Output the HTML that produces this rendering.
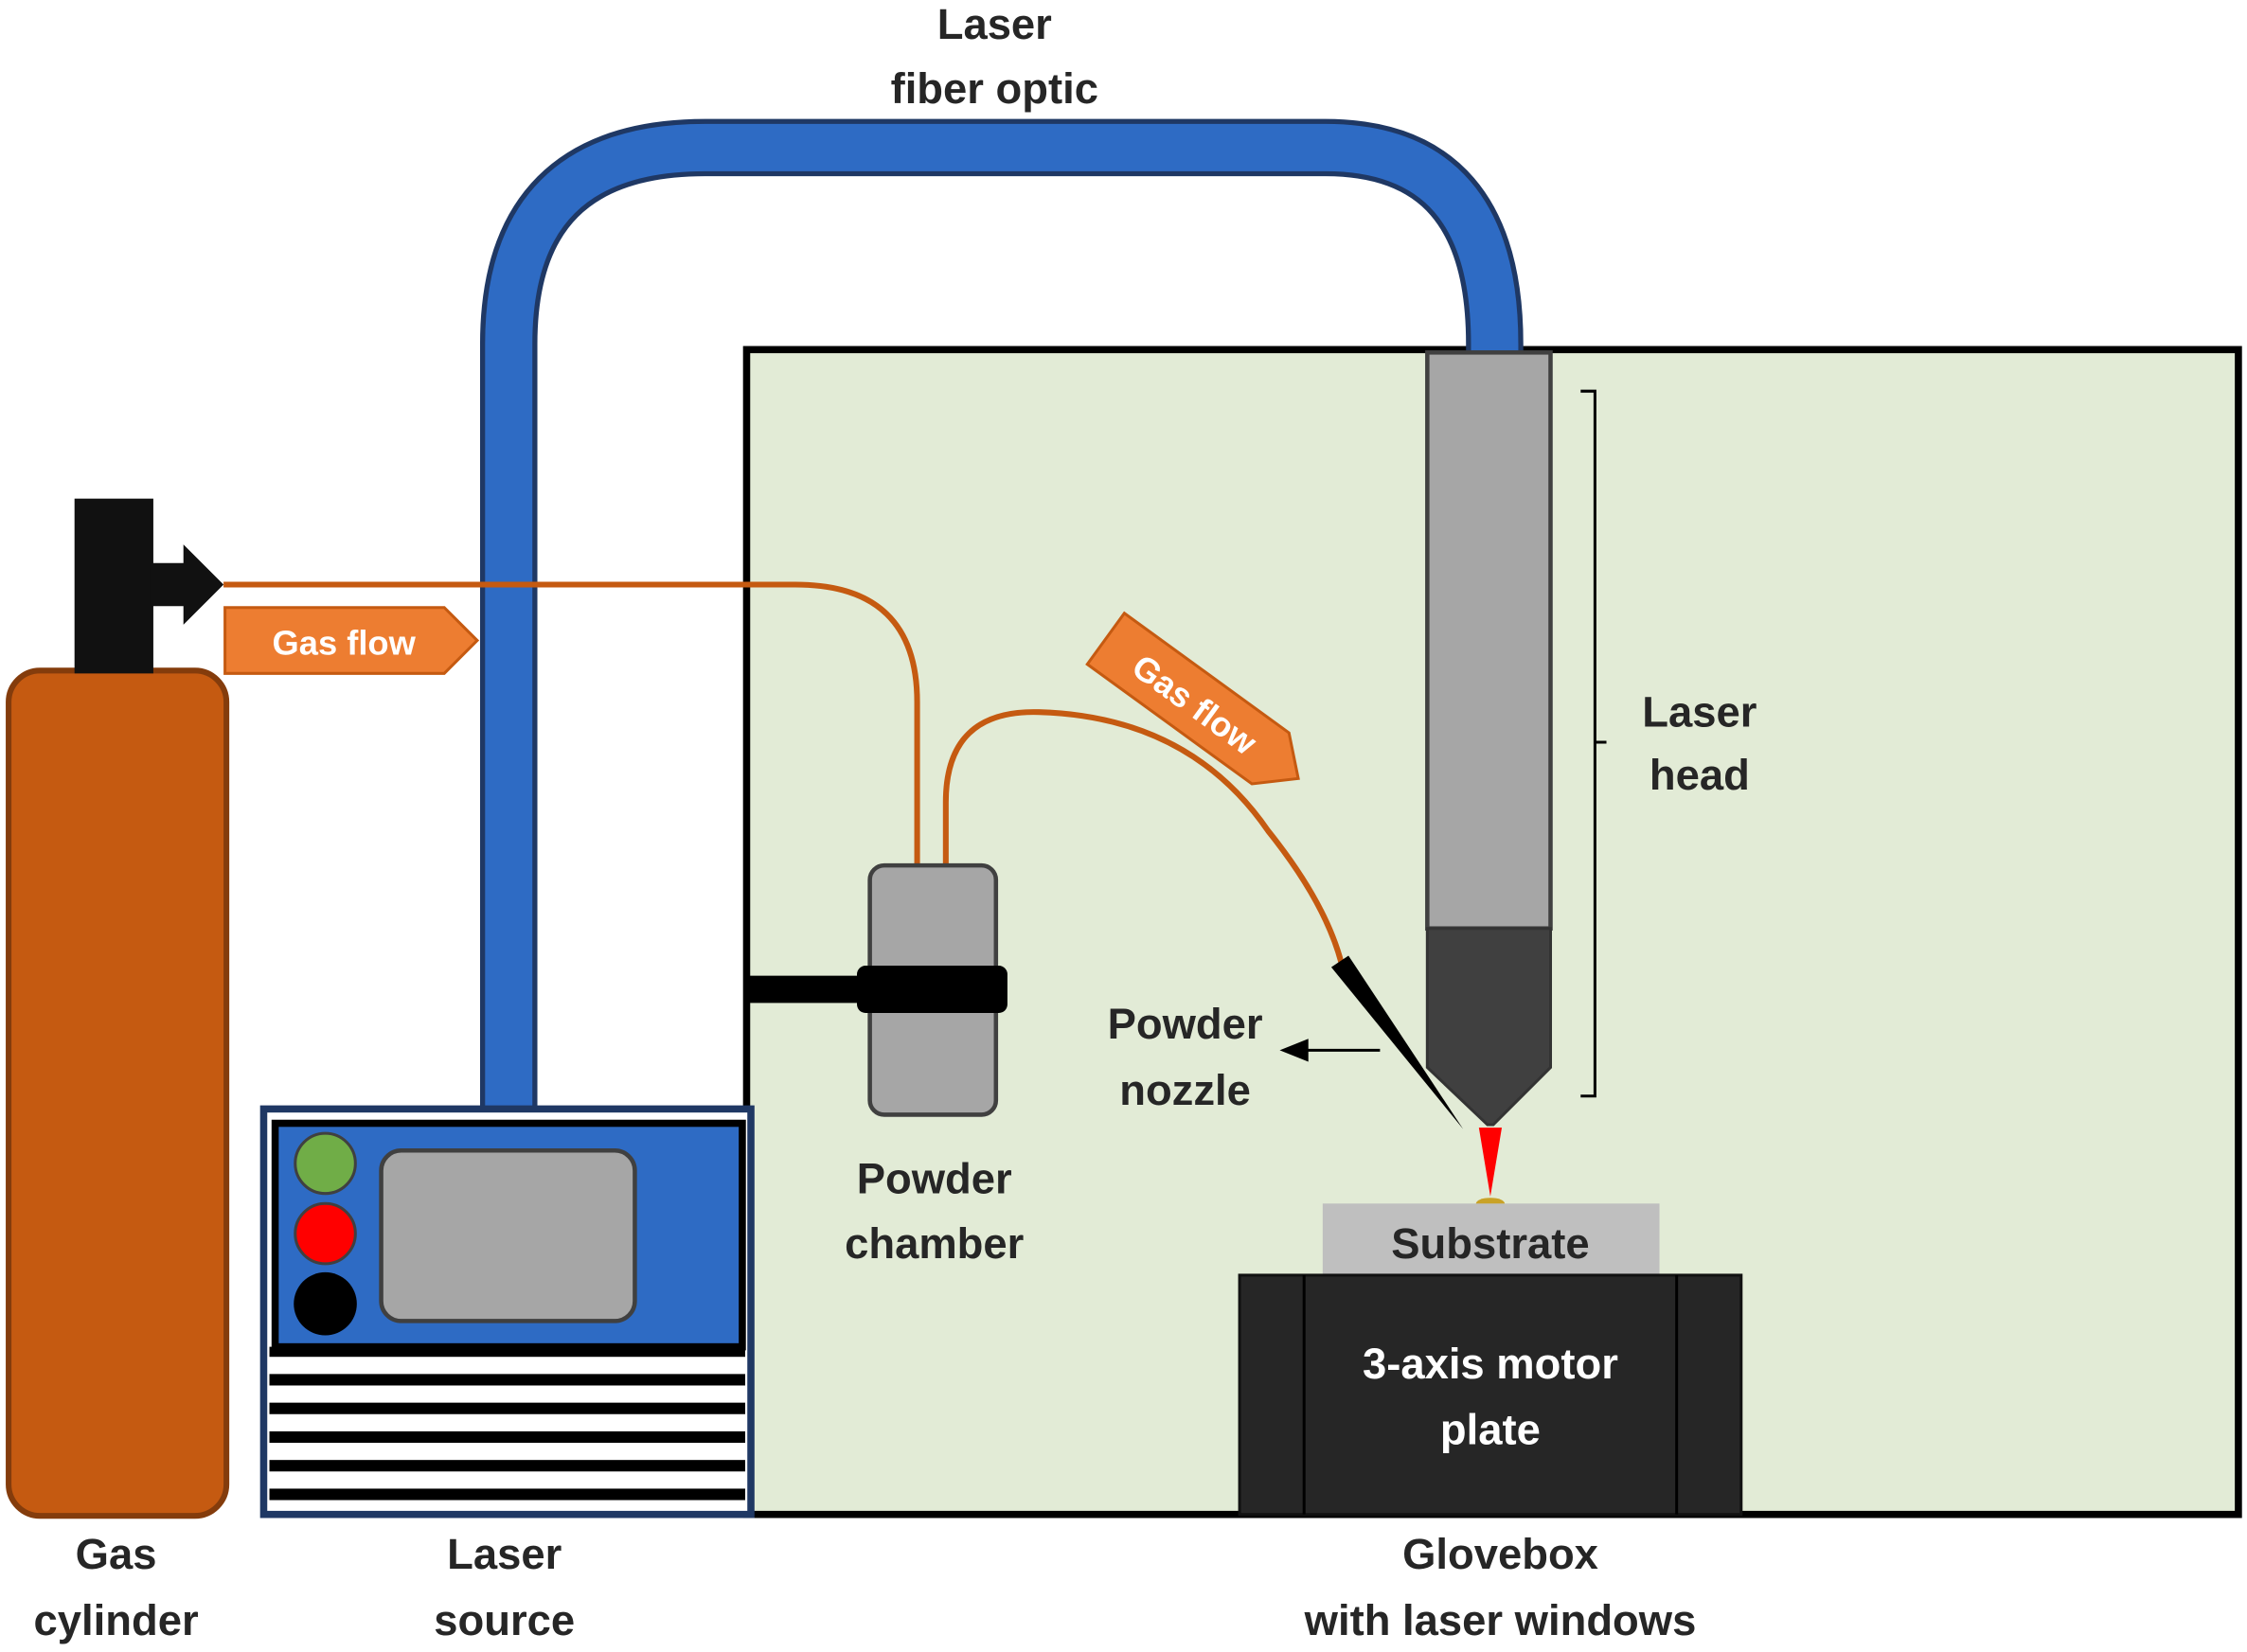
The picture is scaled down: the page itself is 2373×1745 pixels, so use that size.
<!DOCTYPE html>
<html><head><meta charset="utf-8"><style>
html,body{margin:0;padding:0;background:#fff;}
svg{display:block;}
text{font-family:"Liberation Sans",sans-serif;font-weight:bold;}
</style></head><body>
<svg width="2373" height="1745" viewBox="0 0 1568 1153" xmlns="http://www.w3.org/2000/svg">
<rect width="1568" height="1153" fill="#fff"/>
<!-- Glovebox -->
<rect x="521" y="244" width="1041" height="813" fill="#e2ebd6" stroke="#000" stroke-width="5"/>
<!-- fiber -->
<path d="M355 778 V240 Q355 103 492 103 H925 Q1043 103 1043 240 V248" fill="none" stroke="#1f3864" stroke-width="40"/>
<path d="M355 778 V240 Q355 103 492 103 H925 Q1043 103 1043 240 V248" fill="none" stroke="#2e6bc4" stroke-width="33"/>
<!-- laser source -->
<rect x="184" y="774" width="340" height="283" fill="#fff" stroke="#1f3864" stroke-width="5"/>
<rect x="192" y="784" width="326" height="156" fill="#2e6bc4" stroke="#000" stroke-width="5"/>
<rect x="266" y="803" width="177" height="119" rx="14" fill="#a6a6a6" stroke="#404040" stroke-width="3"/>
<circle cx="227" cy="812" r="21" fill="#70ad47" stroke="#404040" stroke-width="2"/>
<circle cx="227" cy="861" r="21" fill="#ff0000" stroke="#404040" stroke-width="2"/>
<circle cx="227" cy="910" r="22" fill="#000"/>
<g fill="#000">
<rect x="188" y="940" width="332" height="7"/>
<rect x="188" y="959" width="332" height="8"/>
<rect x="188" y="979" width="332" height="8"/>
<rect x="188" y="999" width="332" height="8"/>
<rect x="188" y="1019" width="332" height="8"/>
<rect x="188" y="1039" width="332" height="8"/>
</g>
<!-- gas cylinder -->
<rect x="6" y="468" width="152" height="590" rx="22" fill="#c55a11" stroke="#843c0c" stroke-width="4"/>
<rect x="52" y="348" width="55" height="122" fill="#111"/>
<polygon points="105,393 128,393 128,380 156,408 128,436 128,423 105,423" fill="#111"/>
<!-- gas lines -->
<path d="M156 408 H555 Q640 408 640 490 V606" fill="none" stroke="#c55a11" stroke-width="4"/>
<path d="M660 606 V560 Q660 495 725 497 Q830 500 885 580 Q925 630 936 672" fill="none" stroke="#c55a11" stroke-width="4"/>
<!-- gas flow arrow 1 -->
<polygon points="157,424 310,424 333,447 310,470 157,470" fill="#ed7d31" stroke="#c55a11" stroke-width="2"/>
<text x="240" y="457" font-size="24" fill="#fff" text-anchor="middle">Gas flow</text>
<!-- gas flow arrow 2 -->
<g transform="translate(838,494) rotate(36)">
<polygon points="-82,-22 60,-22 84,0 60,22 -82,22" fill="#ed7d31" stroke="#c55a11" stroke-width="2"/>
<text x="-5" y="9" font-size="24" fill="#fff" text-anchor="middle">Gas flow</text>
</g>
<!-- powder chamber -->
<rect x="607" y="604" width="88" height="174" rx="10" fill="#a6a6a6" stroke="#404040" stroke-width="3"/>
<rect x="522" y="681" width="80" height="19" fill="#000"/>
<rect x="598" y="674" width="105" height="33" rx="6" fill="#000"/>
<!-- laser head -->
<rect x="996" y="246" width="86" height="402" fill="#a6a6a6" stroke="#404040" stroke-width="3"/>
<polygon points="996,648 1082,648 1082,745 1042,785 1038,785 996,745" fill="#404040" stroke="#333" stroke-width="2"/>
<polygon points="1032,787 1048,787 1040,835" fill="#ff0000"/>
<ellipse cx="1040" cy="840" rx="10" ry="4" fill="#c9a227"/>
<!-- nozzle -->
<polygon points="929,675 941,667 1021,788" fill="#000"/>
<!-- substrate -->
<rect x="923" y="840" width="235" height="50" fill="#bfbfbf"/>
<text x="1040" y="878" font-size="30" fill="#262626" text-anchor="middle">Substrate</text>
<rect x="865" y="890" width="350" height="167" fill="#262626" stroke="#111" stroke-width="2"/>
<line x1="910" y1="890" x2="910" y2="1057" stroke="#000" stroke-width="2"/>
<line x1="1170" y1="890" x2="1170" y2="1057" stroke="#000" stroke-width="2"/>
<text x="1040" y="962" font-size="30" fill="#fff" text-anchor="middle">3-axis motor</text>
<text x="1040" y="1008" font-size="30" fill="#fff" text-anchor="middle">plate</text>
<!-- bracket -->
<path d="M1103 273 H1113 V765 H1103 M1113 518 H1121" fill="none" stroke="#000" stroke-width="2"/>
<!-- powder nozzle arrow -->
<line x1="963" y1="733" x2="905" y2="733" stroke="#000" stroke-width="2"/>
<polygon points="893,733 913,725 913,741" fill="#000"/>
<!-- labels -->
<g font-size="30" fill="#262626" text-anchor="middle">
<text x="694" y="27">Laser</text>
<text x="694" y="72">fiber optic</text>
<text x="1186" y="507">Laser</text>
<text x="1186" y="551">head</text>
<text x="827" y="725">Powder</text>
<text x="827" y="771">nozzle</text>
<text x="652" y="833">Powder</text>
<text x="652" y="878">chamber</text>
<text x="81" y="1095">Gas</text>
<text x="81" y="1141">cylinder</text>
<text x="352" y="1095">Laser</text>
<text x="352" y="1141">source</text>
<text x="1047" y="1095">Glovebox</text>
<text x="1047" y="1141">with laser windows</text>
</g>
</svg>
</body></html>
